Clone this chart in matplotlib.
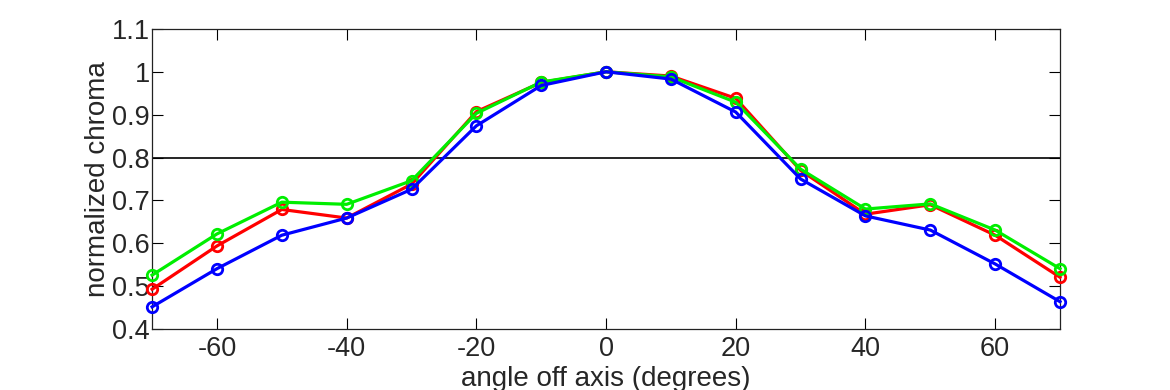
import matplotlib
matplotlib.use("Agg")
import matplotlib.pyplot as plt

angles = [-70, -60, -50, -40, -30, -20, -10, 0, 10, 20, 30, 40, 50, 60, 70]
red = [0.493, 0.594, 0.679, 0.659, 0.738, 0.907, 0.975, 1.0, 0.990, 0.938, 0.770, 0.668, 0.690, 0.619, 0.521]
green = [0.526, 0.622, 0.696, 0.691, 0.746, 0.903, 0.976, 1.0, 0.988, 0.929, 0.773, 0.680, 0.692, 0.631, 0.541]
blue = [0.452, 0.541, 0.619, 0.659, 0.726, 0.874, 0.968, 1.0, 0.983, 0.906, 0.750, 0.664, 0.631, 0.552, 0.464]
threshold = 0.8
xticks = [-60, -40, -20, 0, 20, 40, 60]
yticks = [0.4, 0.5, 0.6, 0.7, 0.8, 0.9, 1.0, 1.1]
ytick_labels = ["0.4", "0.5", "0.6", "0.7", "0.8", "0.9", "1", "1.1"]

plt.rcParams['font.family'] = ['Liberation Sans', 'DejaVu Sans']
plt.rcParams['axes.unicode_minus'] = False
txt = '#262626'
fig = plt.figure(figsize=(11.7, 3.9), dpi=100)
ax = fig.add_axes([0.130, 0.156, 0.776, 0.770])

ax.axhline(threshold, color='black', linewidth=1.2, zorder=1)
for vals, col in [(red, '#ff0000'), (green, '#00ee00'), (blue, '#0000ff')]:
    ax.plot(angles, vals, color=col, linewidth=2.3, marker='o', markersize=7.5,
            markerfacecolor='none', markeredgewidth=2, zorder=3, clip_on=False)

ax.set_xlim(-70, 70)
ax.set_ylim(0.4, 1.1)
ax.set_xticks(xticks)
ax.set_yticks(yticks)
ax.set_yticklabels(ytick_labels)
ax.tick_params(direction='in', length=8, width=0.8, labelsize=19.5, labelcolor=txt,
               top=True, right=True)
ax.tick_params(axis='x', pad=5)
ax.tick_params(axis='y', pad=1.5)
for s in ax.spines.values():
    s.set_linewidth(0.9)
    s.set_color('#222222')
ax.set_xlabel('angle off axis (degrees)', fontsize=20, labelpad=3, color=txt)
ax.set_ylabel('normalized chroma', fontsize=20, labelpad=0.5, color=txt)

fig.savefig('out.png', dpi=100)
